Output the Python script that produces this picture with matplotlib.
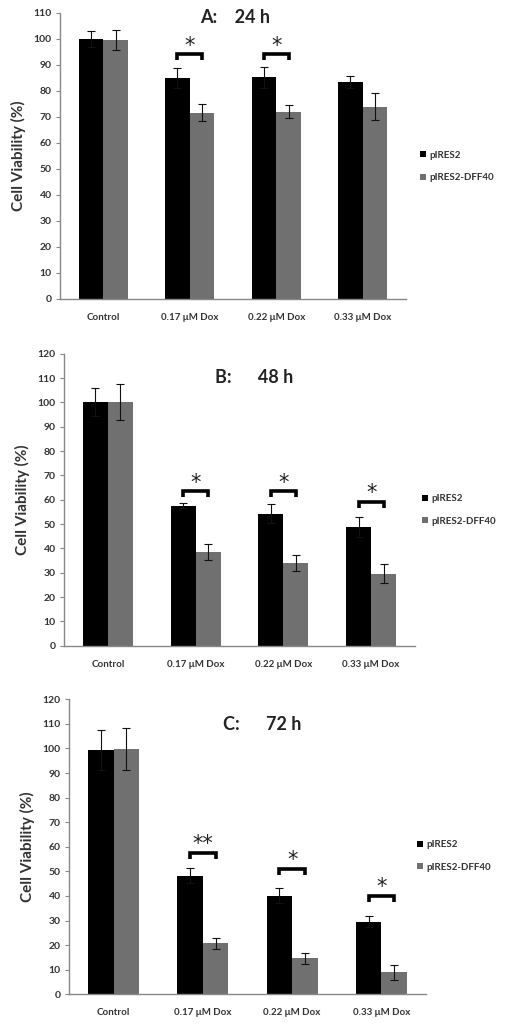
import matplotlib
matplotlib.use("Agg")
import matplotlib.pyplot as plt
from matplotlib.patches import Patch
import numpy as np

plt.rcParams['font.family'] = ['Lato', 'DejaVu Sans']

categories = ["Control", "0.17 \u03bcM Dox", "0.22 \u03bcM Dox", "0.33 \u03bcM Dox"]
series_names = ["pIRES2", "pIRES2-DFF40"]

# Panel A: 24 h
a_black = [100.0, 85.0, 85.3, 83.5]
a_black_err = [3.0, 3.7, 4.0, 2.4]
a_gray = [99.7, 71.7, 72.0, 74.0]
a_gray_err = [3.8, 3.3, 2.5, 5.3]
a_sig = {1: ("*", 94.2), 2: ("*", 94.2)}

# Panel B: 48 h
b_black = [100.0, 57.5, 54.3, 48.7]
b_black_err = [5.7, 1.0, 3.8, 4.2]
b_gray = [100.0, 38.5, 34.0, 29.6]
b_gray_err = [7.4, 3.2, 3.3, 4.0]
b_sig = {1: ("*", 63.5), 2: ("*", 63.5), 3: ("*", 59.1)}

# Panel C: 72 h
c_black = [99.4, 48.3, 40.1, 29.6]
c_black_err = [8.0, 3.2, 3.0, 2.4]
c_gray = [99.8, 20.7, 14.6, 8.9]
c_gray_err = [8.6, 2.1, 2.3, 2.9]
c_sig = {1: ("**", 57.6), 2: ("*", 51.0), 3: ("*", 40.0)}

BLACK = "#000000"
GRAY = "#707070"
TXT = "#333333"

fig = plt.figure(figsize=(5.11, 10.27), dpi=100)

panels = [
    dict(rect=[0.1174, 0.7089, 0.677, 0.2785], ymax=110, title="A:    24 h", tpos=(1.53, 108.3),
         black=a_black, berr=a_black_err, gray=a_gray, gerr=a_gray_err, sig=a_sig,
         leg=(0.822, 0.838)),
    dict(rect=[0.1252, 0.3713, 0.687, 0.2843], ymax=120, title="B:      48 h", tpos=(1.67, 110.2),
         black=b_black, berr=b_black_err, gray=b_gray, gerr=b_gray_err, sig=b_sig,
         leg=(0.826, 0.5034)),
    dict(rect=[0.135, 0.0318, 0.6986, 0.2873], ymax=120, title="C:      72 h", tpos=(1.66, 109.6),
         black=c_black, berr=c_black_err, gray=c_gray, gerr=c_gray_err, sig=c_sig,
         leg=(0.816, 0.1665)),
]

width = 0.285
for p in panels:
    ax = fig.add_axes(p["rect"])
    x = np.arange(len(categories))
    ax.bar(x - width / 2, p["black"], width, color=BLACK, zorder=2)
    ax.bar(x + width / 2, p["gray"], width, color=GRAY, zorder=2)
    ax.errorbar(x - width / 2, p["black"], yerr=p["berr"], fmt="none", ecolor="#111111",
                elinewidth=0.8, capsize=3, capthick=0.8, zorder=3)
    ax.errorbar(x + width / 2, p["gray"], yerr=p["gerr"], fmt="none", ecolor="#111111",
                elinewidth=0.8, capsize=3, capthick=0.8, zorder=3)
    for i, (lab, top) in p["sig"].items():
        x0, x1 = i - width / 2, i + width / 2
        leg_h = 2.3 * p["ymax"] / 110
        ax.plot([x0, x0, x1, x1], [top - leg_h, top, top, top - leg_h], color="black",
                lw=2.6, solid_joinstyle="miter", solid_capstyle="butt", zorder=4)
        ax.text(i, top + 3.2 * p["ymax"] / 110, lab, ha="center", va="center",
                fontsize=15, family="DejaVu Sans", color="#222222")
    ax.set_xlim(-0.5, len(categories) - 0.5)
    ax.set_ylim(0, p["ymax"])
    ax.set_yticks(np.arange(0, p["ymax"] + 1, 10))
    ax.set_xticks(x)
    ax.set_xticklabels(categories, fontsize=7, fontweight="bold", color=TXT)
    ax.tick_params(axis="x", length=0, pad=10)
    ax.tick_params(axis="y", length=3, width=0.8, color="#888888", labelsize=7.5,
                   labelcolor=TXT, pad=3)
    for lbl in ax.get_yticklabels():
        lbl.set_fontweight("bold")
    for s in ["top", "right"]:
        ax.spines[s].set_visible(False)
    for s in ["left", "bottom"]:
        ax.spines[s].set_color("#888888")
        ax.spines[s].set_linewidth(1.0)
    ax.set_ylabel("Cell Viability (%)", fontsize=11, fontweight="bold", color=TXT, labelpad=5)
    ax.text(p["tpos"][0], p["tpos"][1], p["title"], ha="center", va="center",
            fontsize=13, fontweight="bold", color="#222222")
    handles = [Patch(facecolor=BLACK), Patch(facecolor=GRAY)]
    fig.legend(handles, series_names, loc="center left", bbox_to_anchor=p["leg"],
               frameon=False, prop=dict(size=7, weight="bold"), labelcolor=TXT,
               handlelength=0.6, handleheight=0.6, handletextpad=0.4, labelspacing=1.4,
               borderaxespad=0, borderpad=0)

fig.savefig("out.png", dpi=100)
